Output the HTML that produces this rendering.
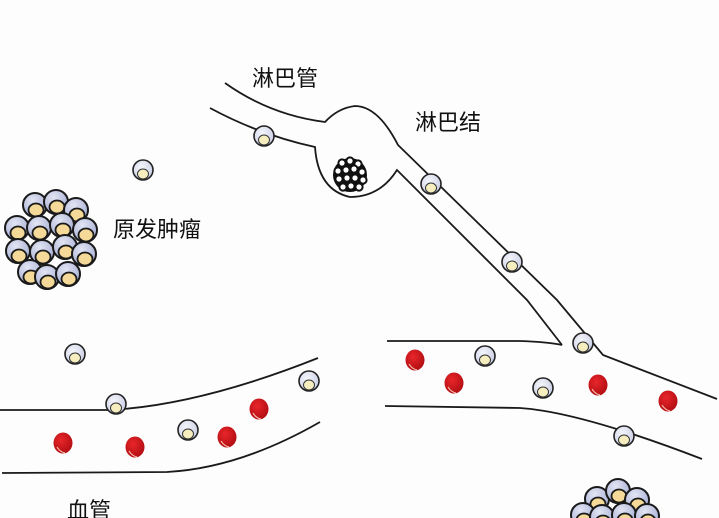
<!DOCTYPE html>
<html><head><meta charset="utf-8"><style>
html,body{margin:0;padding:0;background:#fdfdfd;}
svg{display:block;}
text{font-family:"Liberation Sans","Noto Sans CJK SC",sans-serif;fill:#111;}
</style></head><body>
<svg width="719" height="518" viewBox="0 0 719 518" xmlns="http://www.w3.org/2000/svg">
<defs>
<radialGradient id="cg" cx="0.4" cy="0.35" r="0.7"><stop offset="0" stop-color="#f4f5fb"/><stop offset="1" stop-color="#c9cde3"/></radialGradient>
<radialGradient id="tg" cx="0.4" cy="0.3" r="0.7"><stop offset="0" stop-color="#e2e5f3"/><stop offset="1" stop-color="#a9b0d6"/></radialGradient>
<radialGradient id="rg" cx="0.4" cy="0.35" r="0.7"><stop offset="0" stop-color="#e8262a"/><stop offset="1" stop-color="#b00d12"/></radialGradient>
<g id="c"><circle r="10" fill="url(#cg)" stroke="#222" stroke-width="1.6"/><ellipse cx="0" cy="4" rx="5.5" ry="5" fill="#f6eebf" stroke="#333" stroke-width="1"/></g>
<g id="r"><ellipse rx="9.5" ry="10.5" fill="url(#rg)"/><path d="M-6 4 Q-3 9 2 10" stroke="#f6c0b0" stroke-width="1.2" fill="none"/></g>
<g id="t"><circle r="12" fill="url(#tg)" stroke="#1a1a1a" stroke-width="2"/><ellipse cx="1" cy="5" rx="7.5" ry="6.5" fill="#f5d998" stroke="#1a1a1a" stroke-width="1.8"/></g>
<g id="n"><circle r="3.6" fill="#fff" stroke="#111" stroke-width="2"/></g>
</defs>
<g fill="none" stroke="#1a1a1a" stroke-width="1.8">
<path d="M225 83 Q270 115 325 122 Q338 108 355 106 Q378 106 398 145 L557 300 L603 355 L717 399"/>
<path d="M210 108 Q260 135 315 147 Q318 190 350 197 Q380 197 397 170 L527 300 L562 345"/>
<path d="M387 341 L520 341 Q548 342 562 345"/>
<path d="M385 406 L520 408 Q580 412 702 459"/>
<path d="M0 410 L110 410 Q200 405 318 358"/>
<path d="M2 473 L167 472 Q240 468 320 422"/>
</g>
<g>
<circle cx="350" cy="175" r="17" fill="#111"/>
<use href="#n" x="342" y="163"/><use href="#n" x="350" y="161"/><use href="#n" x="358" y="164"/>
<use href="#n" x="338" y="171"/><use href="#n" x="346" y="170"/><use href="#n" x="354" y="169"/><use href="#n" x="362" y="172"/>
<use href="#n" x="339" y="179"/><use href="#n" x="347" y="178"/><use href="#n" x="355" y="178"/><use href="#n" x="363" y="180"/>
<use href="#n" x="343" y="187"/><use href="#n" x="351" y="186"/><use href="#n" x="359" y="187"/>
</g>
<g>
<use href="#t" x="35" y="205"/><use href="#t" x="56" y="202"/><use href="#t" x="76" y="210"/>
<use href="#t" x="17" y="228"/><use href="#t" x="39" y="228"/><use href="#t" x="62" y="225"/><use href="#t" x="85" y="230"/>
<use href="#t" x="18" y="251"/><use href="#t" x="42" y="252"/><use href="#t" x="65" y="247"/><use href="#t" x="84" y="254"/>
<use href="#t" x="30" y="272"/><use href="#t" x="47" y="277"/><use href="#t" x="68" y="274"/>
</g>
<g>
<use href="#t" x="597" y="499"/><use href="#t" x="618" y="491"/><use href="#t" x="637" y="500"/>
<use href="#t" x="583" y="515"/><use href="#t" x="602" y="517"/><use href="#t" x="624" y="515"/><use href="#t" x="647" y="516"/>
</g>
<use href="#c" x="264" y="136"/><use href="#c" x="143" y="170"/><use href="#c" x="431" y="184"/>
<use href="#c" x="512" y="262"/><use href="#c" x="583" y="343"/><use href="#c" x="485" y="356"/>
<use href="#c" x="543" y="388"/><use href="#c" x="624" y="436"/><use href="#c" x="75" y="354"/>
<use href="#c" x="116" y="404"/><use href="#c" x="188" y="430"/><use href="#c" x="309" y="381"/>
<use href="#r" x="415" y="360"/><use href="#r" x="454" y="383"/><use href="#r" x="598" y="385"/>
<use href="#r" x="668" y="401"/><use href="#r" x="63" y="443"/><use href="#r" x="135" y="447"/>
<use href="#r" x="227" y="437"/><use href="#r" x="259" y="409"/>
<text x="252" y="86" font-size="22">淋巴管</text>
<text x="415" y="130" font-size="22">淋巴结</text>
<text x="113" y="237" font-size="22">原发肿瘤</text>
<text x="67" y="518" font-size="22">血管</text>
</svg>
</body></html>
